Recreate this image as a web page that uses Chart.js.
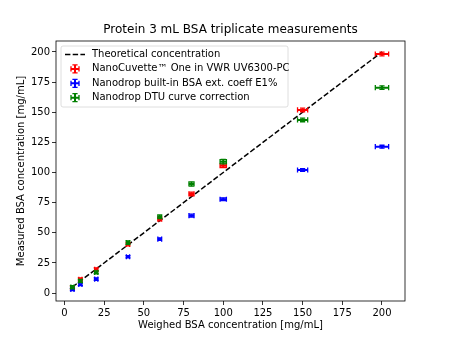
<!DOCTYPE html>
<html>
<head>
<meta charset="utf-8">
<script src="https://cdn.jsdelivr.net/npm/chart.js@4.4.1/dist/chart.umd.min.js"></script>
<style>
  html, body { margin: 0; padding: 0; background: #fff; }
</style>
</head>
<body>
<canvas id="grafik" width="450" height="338"></canvas>
<script>
// weighed concentration (x) and measured values per method
const weighed = [5, 10, 20, 40, 60, 80, 100, 150, 200];
const theoretical = [5, 10, 20, 40, 60, 80, 100, 150, 200];
const nanoCuvette = [4.5, 11.3, 19.6, 40.4, 61.4, 82.2, 105.6, 151.9, 198.3];
const builtIn = [3.0, 7.2, 11.6, 30.1, 44.8, 64.2, 77.8, 102.1, 121.4];
const dtuCurve = [4.9, 10.0, 17.2, 41.8, 63.3, 90.5, 109.0, 143.6, 170.4];

// error bars
const xErr = [1, 1, 1, 1, 1.2, 1.6, 2, 3.2, 4.2];
const nanoErr = [1.2, 1.2, 1.2, 1.2, 1.5, 1.5, 1.5, 1.5, 1.5];
const builtInErr = [1, 1, 1, 1, 1, 1.2, 1.2, 1.2, 1.2];
const dtuErr = [1.2, 1.2, 1.2, 1.5, 1.5, 1.8, 1.8, 1.5, 1.5];

const xTicks = [0, 25, 50, 75, 100, 125, 150, 175, 200];
const yTicks = [0, 25, 50, 75, 100, 125, 150, 175, 200];

const chartTitle = "Protein 3 mL BSA triplicate measurements";
const seriesLabels = [
  "Theoretical concentration",
  "NanoCuvette\u2122 One in VWR UV6300-PC",
  "Nanodrop built-in BSA ext. coeff E1%",
  "Nanodrop DTU curve correction"
];
const seriesColors = ["#000000", "#ff0000", "#0000ff", "#008000"];

const FONT = "'DejaVu Sans', sans-serif";

const pts = (ys) => weighed.map((x, i) => ({ x, y: ys[i] }));

// error bars drawn through the chart scales
const errorBars = {
  id: "errorBars",
  afterDatasetsDraw(c) {
    const ctx = c.ctx, sx = c.scales.x, sy = c.scales.y;
    c.data.datasets.forEach((ds) => {
      if (!ds.yErr) return;
      ctx.save();
      ctx.strokeStyle = ds.borderColor;
      ds.data.forEach((p, i) => {
        const px = sx.getPixelForValue(p.x), py = sy.getPixelForValue(p.y);
        const x0 = sx.getPixelForValue(p.x - xErr[i]), x1 = sx.getPixelForValue(p.x + xErr[i]);
        const y0 = sy.getPixelForValue(p.y - ds.yErr[i]), y1 = sy.getPixelForValue(p.y + ds.yErr[i]);
        ctx.lineWidth = 2;
        ctx.beginPath();
        ctx.moveTo(x0, py); ctx.lineTo(x1, py);
        ctx.moveTo(px, y0); ctx.lineTo(px, y1);
        ctx.stroke();
        ctx.lineWidth = 1.3;
        ctx.beginPath();
        ctx.moveTo(x0, py - 2.6); ctx.lineTo(x0, py + 2.6);
        ctx.moveTo(x1, py - 2.6); ctx.lineTo(x1, py + 2.6);
        ctx.moveTo(px - 2.6, y0); ctx.lineTo(px + 2.6, y0);
        ctx.moveTo(px - 2.6, y1); ctx.lineTo(px + 2.6, y1);
        ctx.stroke();
      });
      ctx.restore();
    });
  }
};

// title over the plot, axes frame + legend box inside plot
const frameLegend = {
  id: "frameLegend",
  afterDraw(c) {
    const ctx = c.ctx, a = c.chartArea;
    ctx.save();
    ctx.fillStyle = "#000";
    ctx.font = "12px " + FONT;
    ctx.textAlign = "center";
    ctx.textBaseline = "middle";
    ctx.fillText(chartTitle, (a.left + a.right) / 2, 30);
    ctx.textAlign = "left";

    ctx.strokeStyle = "#000";
    ctx.lineWidth = 0.8;
    ctx.strokeRect(a.left, a.top, a.right - a.left, a.bottom - a.top);

    // legend
    const lx = a.left + 5, ly = a.top + 5, lw = 227, lh = 61;
    ctx.beginPath();
    ctx.roundRect(lx, ly, lw, lh, 2);
    ctx.fillStyle = "rgba(255,255,255,0.8)";
    ctx.fill();
    ctx.strokeStyle = "#d6d6d6";
    ctx.lineWidth = 0.8;
    ctx.stroke();

    ctx.font = "10px " + FONT;
    seriesLabels.forEach((lab, i) => {
      const ry = ly + 8.5 + i * 14.4;
      const cx = lx + 14;
      ctx.strokeStyle = seriesColors[i];
      if (i === 0) {
        ctx.lineWidth = 1.5;
        ctx.setLineDash([5.4, 2.3]);
        ctx.beginPath();
        ctx.moveTo(lx + 4, ry); ctx.lineTo(lx + 24, ry);
        ctx.stroke();
        ctx.setLineDash([]);
      } else {
        ctx.lineWidth = 2;
        ctx.beginPath();
        ctx.moveTo(cx - 4, ry); ctx.lineTo(cx + 4, ry);
        ctx.moveTo(cx, ry - 4); ctx.lineTo(cx, ry + 4);
        ctx.stroke();
        ctx.lineWidth = 1.3;
        ctx.beginPath();
        ctx.moveTo(cx - 4, ry - 2.6); ctx.lineTo(cx - 4, ry + 2.6);
        ctx.moveTo(cx + 4, ry - 2.6); ctx.lineTo(cx + 4, ry + 2.6);
        ctx.moveTo(cx - 2.6, ry - 4); ctx.lineTo(cx + 2.6, ry - 4);
        ctx.moveTo(cx - 2.6, ry + 4); ctx.lineTo(cx + 2.6, ry + 4);
        ctx.stroke();
      }
      ctx.fillStyle = "#000";
      ctx.fillText(lab, lx + 31, ry);
    });
    ctx.restore();
  }
};

const tickFont = { family: FONT, size: 10 };

new Chart(grafik, {
  type: "scatter",
  data: {
    datasets: [
      { type: "line", label: seriesLabels[0], data: pts(theoretical), borderColor: "#000", borderWidth: 1.5,
        borderDash: [5.4, 2.3], pointRadius: 0, fill: false, tension: 0 },
      { label: seriesLabels[1], data: pts(nanoCuvette), yErr: nanoErr, borderColor: seriesColors[1], pointRadius: 0 },
      { label: seriesLabels[2], data: pts(builtIn), yErr: builtInErr, borderColor: seriesColors[2], pointRadius: 0 },
      { label: seriesLabels[3], data: pts(dtuCurve), yErr: dtuErr, borderColor: seriesColors[3], pointRadius: 0 }
    ]
  },
  options: {
    responsive: false,
    animation: false,
    layout: { padding: { left: 0, right: 45, top: 41, bottom: 0 } },
    plugins: {
      legend: { display: false },
      tooltip: { enabled: false },
      title: { display: false }
    },
    scales: {
      x: {
        type: "linear", min: -5.35, max: 214.5,
        afterBuildTicks: s => { s.ticks = xTicks.map(v => ({ value: v })); },
        afterFit: s => { s.height = 37; },
        ticks: { color: "#000", font: tickFont, padding: 2, maxRotation: 0, autoSkip: false },
        grid: { drawOnChartArea: false, tickLength: 4, color: "#000", tickWidth: 0.8 },
        border: { display: false },
        title: { display: true, text: "Weighed BSA concentration [mg/mL]", color: "#000", font: tickFont,
          padding: { top: 0, bottom: 7 } }
      },
      y: {
        type: "linear", min: -6.6, max: 209.1,
        afterBuildTicks: s => { s.ticks = yTicks.map(v => ({ value: v })); },
        afterFit: s => { s.width = 56; },
        ticks: { color: "#000", font: tickFont, padding: 2, autoSkip: false },
        grid: { drawOnChartArea: false, tickLength: 4, color: "#000", tickWidth: 0.8 },
        border: { display: false },
        title: { display: true, text: "Measured BSA concentration [mg/mL]", color: "#000", font: tickFont,
          padding: { top: 15, bottom: 0 } }
      }
    }
  },
  plugins: [errorBars, frameLegend]
});
</script>
</body>
</html>
